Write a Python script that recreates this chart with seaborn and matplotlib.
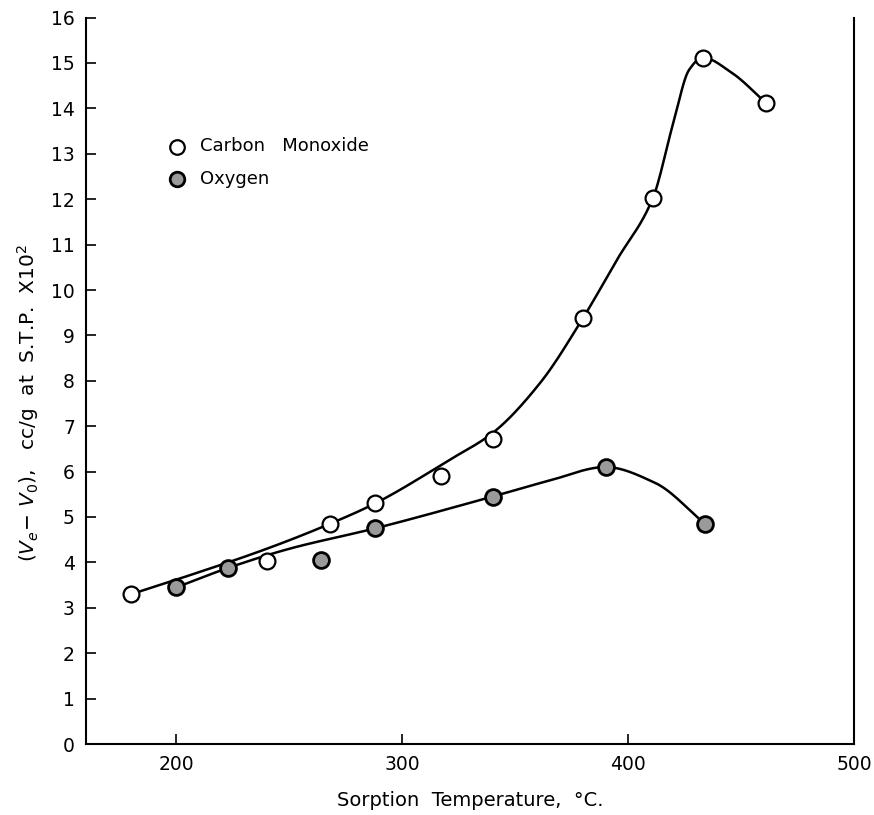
import numpy as np
import pandas as pd
import matplotlib
matplotlib.use("Agg")
import matplotlib.pyplot as plt
import seaborn as sns

# Measured points
co_temp = [180, 240, 268, 288, 317, 340, 380, 411, 433, 461]
co_val = [3.3, 4.02, 4.85, 5.3, 5.9, 6.72, 9.38, 12.03, 15.12, 14.12]
ox_temp = [200, 223, 264, 288, 340, 390, 434]
ox_val = [3.45, 3.88, 4.05, 4.75, 5.45, 6.1, 4.85]

# Hand-drawn smooth curves
co_curve_t = [180, 200, 240, 268, 288, 321, 340, 361, 380, 395, 411, 420, 427, 433, 446, 461]
co_curve_v = [3.3, 3.62, 4.3, 4.85, 5.3, 6.26, 6.85, 7.95, 9.38, 10.66, 12.03, 13.68, 14.85, 15.12, 14.78, 14.12]
ox_curve_t = [200, 223, 250, 288, 340, 365, 390, 412, 434]
ox_curve_v = [3.45, 3.88, 4.3, 4.75, 5.45, 5.8, 6.1, 5.75, 4.85]

x_ticks = [200, 300, 400, 500]
y_ticks = list(range(0, 17))


def pchip(x, y, n=400):
    x = np.asarray(x, float); y = np.asarray(y, float)
    h = np.diff(x); d = np.diff(y) / h
    m = np.zeros_like(y)
    for k in range(1, len(x) - 1):
        if d[k - 1] * d[k] > 0:
            w1 = 2 * h[k] + h[k - 1]; w2 = h[k] + 2 * h[k - 1]
            m[k] = (w1 + w2) / (w1 / d[k - 1] + w2 / d[k])
    m[0] = d[0]; m[-1] = d[-1]
    xs = np.linspace(x[0], x[-1], n)
    idx = np.clip(np.searchsorted(x, xs) - 1, 0, len(h) - 1)
    t = (xs - x[idx]) / h[idx]
    h00 = 2 * t**3 - 3 * t**2 + 1; h10 = t**3 - 2 * t**2 + t
    h01 = -2 * t**3 + 3 * t**2; h11 = t**3 - t**2
    ys = h00 * y[idx] + h10 * h[idx] * m[idx] + h01 * y[idx + 1] + h11 * h[idx] * m[idx + 1]
    return xs, ys


sns.set_theme(style="ticks")
plt.rcParams['font.family'] = ['DejaVu Sans']

fig = plt.figure(figsize=(8.74, 8.15), dpi=100)
ax = fig.add_axes([86 / 874, 1 - 744 / 815, (854 - 86) / 874, (744 - 17.6) / 815])

cx, cy = pchip(co_curve_t, co_curve_v)
ox, oy = pchip(ox_curve_t, ox_curve_v)
curves = pd.concat([
    pd.DataFrame({"t": cx, "v": cy, "s": "co"}),
    pd.DataFrame({"t": ox, "v": oy, "s": "ox"}),
])
sns.lineplot(data=curves, x="t", y="v", units="s", estimator=None, sort=False,
             color="black", lw=1.8, ax=ax, legend=False)

pts_co = pd.DataFrame({"t": co_temp, "v": co_val})
pts_ox = pd.DataFrame({"t": ox_temp, "v": ox_val})
sns.scatterplot(data=pts_co, x="t", y="v", marker="o", s=130, facecolor="white",
                edgecolor="black", linewidth=1.6, ax=ax, zorder=5)
sns.scatterplot(data=pts_ox, x="t", y="v", marker="o", s=130, facecolor="#9a9a9a",
                edgecolor="black", linewidth=2.0, ax=ax, zorder=5)

ax.set_xlim(160, 500)
ax.set_ylim(0, 16)
ax.set_xticks(x_ticks)
ax.set_yticks(y_ticks)
ax.tick_params(axis="both", direction="in", length=7, width=1.2, labelsize=13.5,
               pad=8, color="black", labelcolor="black")
for sp in ["left", "bottom", "right", "top"]:
    ax.spines[sp].set_color("black")
    ax.spines[sp].set_linewidth(1.5)
ax.spines["top"].set_visible(False)

ax.set_xlabel("Sorption  Temperature,  °C.", fontsize=14, labelpad=12, color="black")
ax.set_ylabel(r"$(V_e\!-\,V_0)$,   cc/g  at  S.T.P.  X10$^2$", fontsize=14.5, color="black")
ax.yaxis.set_label_coords(-0.058, 0.47)

# legend
h1 = ax.scatter([], [], marker="o", s=110, facecolor="white", edgecolor="black", linewidth=1.6)
h2 = ax.scatter([], [], marker="o", s=110, facecolor="#9a9a9a", edgecolor="black", linewidth=2.0)
ax.legend([h1, h2], ["Carbon   Monoxide", "Oxygen"], loc="upper left",
          bbox_to_anchor=(0.085, 0.845), frameon=False, fontsize=13,
          handletextpad=0.3, labelspacing=0.8, borderaxespad=0, labelcolor="black")

fig.savefig("out.png", dpi=100)
